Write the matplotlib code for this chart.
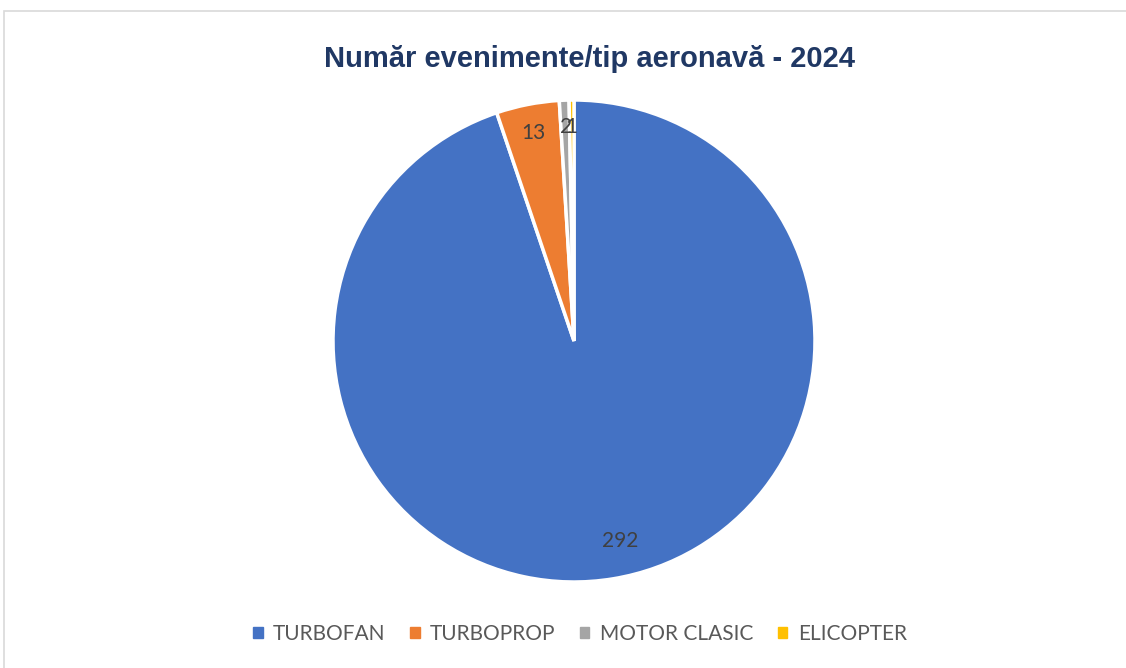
import matplotlib.pyplot as plt
from matplotlib.patches import Rectangle
import numpy as np

# Date
categorii = ['TURBOFAN', 'TURBOPROP', 'MOTOR CLASIC', 'ELICOPTER']
valori = [292, 13, 2, 1]
culori = ['#4472C4', '#ED7D31', '#A5A5A5', '#FFC000']
titlu = 'Număr evenimente/tip aeronavă - 2024'

W, H = 1126, 668
fig = plt.figure(figsize=(W / 100, H / 100), dpi=100)

# chenarul graficului (iese din imagine la dreapta si jos)
fig.patches.append(Rectangle((4 / W, -0.05), 1.2, 1 - 11 / H + 0.05,
                             transform=fig.transFigure, fill=False,
                             edgecolor='#D9D9D9', linewidth=1.2))

cx, cy, r = 574, 341, 241
ax = fig.add_axes([(cx - r) / W, (H - cy - r) / H, 2 * r / W, 2 * r / H])
wedges, _ = ax.pie(valori, colors=culori, startangle=90, counterclock=False,
                   radius=1, wedgeprops=dict(edgecolor='white', linewidth=2.5))
ax.set_xlim(-1, 1)
ax.set_ylim(-1, 1)
ax.set_aspect('equal')
ax.axis('off')

# etichete de date (pozitii "best fit" in stil Excel: unghi, distanta)
poz_etichete = [(-77, 0.85), (101, 0.88), (92.0, 0.89), (90.7, 0.89)]
for val, (ang, d) in zip(valori, poz_etichete):
    a = np.deg2rad(ang)
    ax.text(d * np.cos(a), d * np.sin(a), str(val), ha='center', va='center',
            fontsize=15, color='#404040', family=['Lato', 'DejaVu Sans'])

fig.text(590 / W, 1 - 59 / H, titlu, ha='center', va='center', fontsize=21,
         fontweight='bold', color='#203864', family='Liberation Sans')

handles = [plt.Rectangle((0, 0), 1, 1, color=c) for c in culori]
fig.legend(handles, categorii, loc='center', bbox_to_anchor=(580 / W, 1 - 634 / H),
           ncol=4, frameon=False, handlelength=0.45, handleheight=0.45,
           handletextpad=0.5, columnspacing=1.18,
           prop={'family': 'Lato', 'size': 15}, labelcolor='#595959')

fig.savefig('out.png', dpi=100)
